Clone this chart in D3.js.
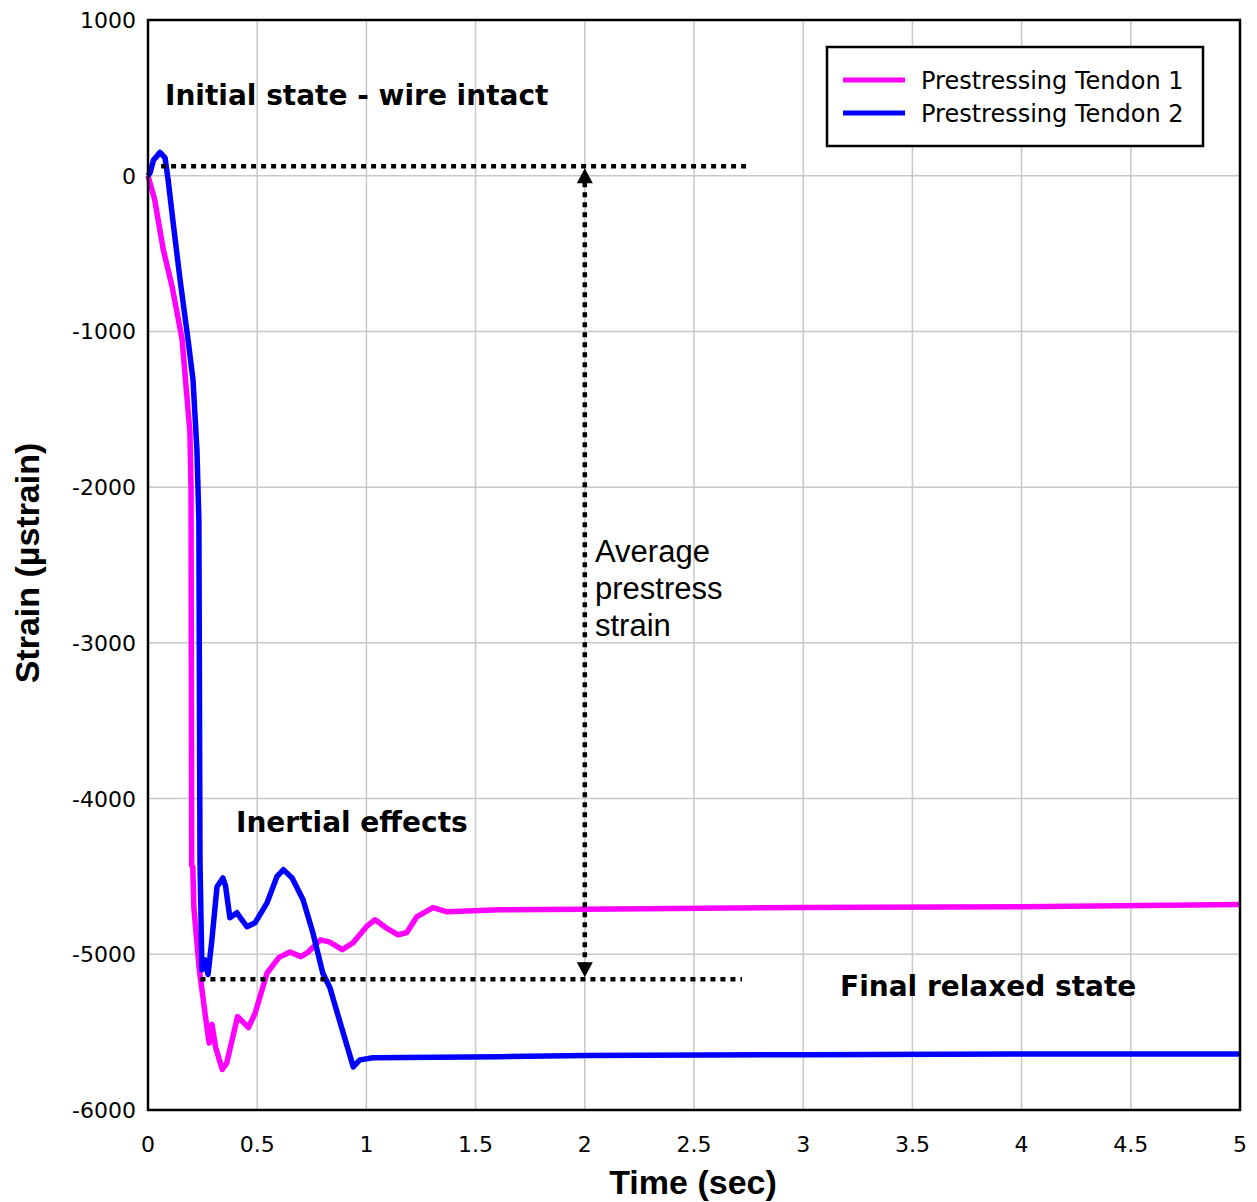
<!DOCTYPE html>
<html>
<head>
<meta charset="utf-8">
<script src="https://cdn.jsdelivr.net/npm/d3@7"></script>
<style>
  body { margin: 0; background: #fff; }
  svg { display: block; }
</style>
</head>
<body>
<svg id="chart"></svg>
<script>
// Tendon 1 (magenta) readings: time (sec) / strain (µstrain)
var time1   = [0,    0.03, 0.07, 0.11, 0.156, 0.192, 0.197, 0.2,   0.205, 0.21,  0.235, 0.265, 0.28,  0.293, 0.31,  0.34,  0.36,  0.41,  0.46,  0.49,  0.545, 0.6,   0.65,  0.7,   0.73,  0.79,  0.83,  0.89,  0.94,  1.0,   1.04,  1.09,  1.145, 1.185, 1.23,  1.305, 1.37,  1.61,  2.0,   3.0,   4.0,   5.0];
var strain1 = [0,    -150, -475, -710, -1050, -1650, -2000, -4430, -4440, -4700, -5100, -5420, -5570, -5450, -5600, -5740, -5700, -5400, -5470, -5380, -5120, -5020, -4985, -5015, -4990, -4907, -4920, -4970, -4925, -4823, -4778, -4830, -4875, -4860, -4760, -4700, -4727, -4714, -4710, -4700, -4695, -4680];

// Tendon 2 (blue)
var time2   = [0, 0.01, 0.025, 0.055, 0.078, 0.092, 0.115, 0.147, 0.183, 0.206, 0.224, 0.233, 0.238, 0.247, 0.26,  0.275, 0.293, 0.316, 0.343, 0.355, 0.375, 0.407, 0.42,  0.453, 0.49,  0.545, 0.59,  0.62,  0.66,  0.71,  0.755, 0.8,   0.833, 0.88,  0.94,  0.97,  1.03,  1.61,  2.0,   3.0,   4.0,   5.0];
var strain2 = [0, 20,   100,   150,   115,   -25,   -300,  -670,  -1050, -1310, -1760, -2210, -4400, -5100, -5035, -5130, -4900, -4566, -4510, -4560, -4766, -4733, -4760, -4823, -4798, -4670, -4502, -4457, -4510, -4650, -4862, -5120, -5215, -5440, -5723, -5678, -5665, -5658, -5650, -5645, -5640, -5640];

var seriesNames  = ["Prestressing Tendon 1", "Prestressing Tendon 2"];
var seriesColors = ["#ff00ff", "#0000ff"];

var xTicks = [0, 0.5, 1, 1.5, 2, 2.5, 3, 3.5, 4, 4.5, 5];
var yTicks = [1000, 0, -1000, -2000, -3000, -4000, -5000, -6000];

// annotation values
var topLevel = 60, bottomLevel = -5160, arrowTime = 2;

var width = 1257, height = 1202;
var margin = {top: 20, right: 17, bottom: 92, left: 148};

var svg = d3.select("#chart")
            .attr("width", width)
            .attr("height", height);

var xScale = d3.scaleLinear()
               .domain([0, 5])
               .range([margin.left, width - margin.right]);

var yScale = d3.scaleLinear()
               .domain([-6000, 1000])
               .range([height - margin.bottom, margin.top]);

// Grid lines
svg.append("g")
   .selectAll("line.vgrid")
   .data(xTicks)
   .enter().append("line")
     .attr("x1", d => xScale(d)).attr("x2", d => xScale(d))
     .attr("y1", yScale(1000)).attr("y2", yScale(-6000))
     .attr("stroke", "#c8c8c8").attr("stroke-width", 1.5);

svg.append("g")
   .selectAll("line.hgrid")
   .data(yTicks)
   .enter().append("line")
     .attr("x1", xScale(0)).attr("x2", xScale(5))
     .attr("y1", d => yScale(d)).attr("y2", d => yScale(d))
     .attr("stroke", "#c8c8c8").attr("stroke-width", 1.5);

// Tick labels
svg.append("g")
   .selectAll("text")
   .data(xTicks)
   .enter().append("text")
     .attr("x", d => xScale(d))
     .attr("y", height - margin.bottom + 42)
     .attr("text-anchor", "middle")
     .style("font-family", "DejaVu Sans")
     .style("font-size", "22px")
     .text(d => d);

svg.append("g")
   .selectAll("text")
   .data(yTicks)
   .enter().append("text")
     .attr("x", margin.left - 12)
     .attr("y", d => yScale(d) + 8)
     .attr("text-anchor", "end")
     .style("font-family", "DejaVu Sans")
     .style("font-size", "22px")
     .text(d => d);

// Axis titles
svg.append("text")
   .attr("x", 693)
   .attr("y", 1194)
   .attr("text-anchor", "middle")
   .style("font-family", "Liberation Sans")
   .style("font-weight", "bold")
   .style("font-size", "34px")
   .text("Time (sec)");

svg.append("text")
   .attr("transform", "translate(39, 563) rotate(-90)")
   .attr("text-anchor", "middle")
   .style("font-family", "Liberation Sans")
   .style("font-weight", "bold")
   .style("font-size", "34px")
   .text("Strain (µstrain)");

// Series lines
var line = d3.line()
             .x(d => xScale(d[0]))
             .y(d => yScale(d[1]));

var series = [d3.zip(time1, strain1), d3.zip(time2, strain2)];

svg.append("g")
   .selectAll("path")
   .data(series)
   .enter().append("path")
     .attr("d", line)
     .attr("fill", "none")
     .attr("stroke", (d, i) => seriesColors[i])
     .attr("stroke-width", 5.5)
     .attr("stroke-linejoin", "round");

// Dotted annotation lines
function dotLine(x1, y1, x2, y2) {
    return svg.append("line")
              .attr("x1", x1).attr("y1", y1)
              .attr("x2", x2).attr("y2", y2)
              .attr("stroke", "#000")
              .attr("stroke-width", 4.5)
              .attr("stroke-dasharray", "5,5");
}
dotLine(xScale(0.06), yScale(topLevel), xScale(2.75), yScale(topLevel));
dotLine(xScale(0.24), yScale(bottomLevel), xScale(2.72), yScale(bottomLevel));
dotLine(xScale(arrowTime), yScale(topLevel) + 16, xScale(arrowTime), yScale(bottomLevel) - 14);

// Arrow heads
var ax = xScale(arrowTime);
svg.append("path")
   .attr("d", d3.line()([[ax, yScale(topLevel) + 2], [ax - 8, yScale(topLevel) + 17], [ax + 8, yScale(topLevel) + 17]]))
   .attr("fill", "#000");
svg.append("path")
   .attr("d", d3.line()([[ax, yScale(bottomLevel) - 2], [ax - 8, yScale(bottomLevel) - 17], [ax + 8, yScale(bottomLevel) - 17]]))
   .attr("fill", "#000");

// Frame
svg.append("rect")
   .attr("x", xScale(0)).attr("y", yScale(1000))
   .attr("width", xScale(5) - xScale(0))
   .attr("height", yScale(-6000) - yScale(1000))
   .attr("fill", "none")
   .attr("stroke", "#000")
   .attr("stroke-width", 2.5);

// Annotation text
function boldNote(x, y, txt) {
    svg.append("text")
       .attr("x", x).attr("y", y)
       .style("font-family", "DejaVu Sans")
       .style("font-weight", "bold")
       .style("font-size", "28px")
       .text(txt);
}
boldNote(165, 105, "Initial state - wire intact");
boldNote(236, 832, "Inertial effects");
boldNote(840, 996, "Final relaxed state");

svg.append("g")
   .selectAll("text")
   .data(["Average", "prestress", "strain"])
   .enter().append("text")
     .attr("x", 595)
     .attr("y", (d, i) => 562 + i * 37)
     .style("font-family", "Liberation Sans")
     .style("font-size", "31px")
     .text(d => d);

// Legend
var legend = svg.append("g");
legend.append("rect")
      .attr("x", 827).attr("y", 47)
      .attr("width", 376).attr("height", 99)
      .attr("fill", "#fff")
      .attr("stroke", "#000")
      .attr("stroke-width", 2.5);

var items = legend.selectAll("g.item")
                  .data(seriesNames)
                  .enter().append("g")
                  .attr("transform", (d, i) => "translate(0," + (80 + i * 33) + ")");
items.append("line")
     .attr("x1", 843).attr("x2", 905)
     .attr("stroke", (d, i) => seriesColors[i])
     .attr("stroke-width", 5);
items.append("text")
     .attr("x", 921).attr("y", 9)
     .style("font-family", "DejaVu Sans")
     .style("font-size", "24px")
     .text(d => d);
</script>
</body>
</html>
